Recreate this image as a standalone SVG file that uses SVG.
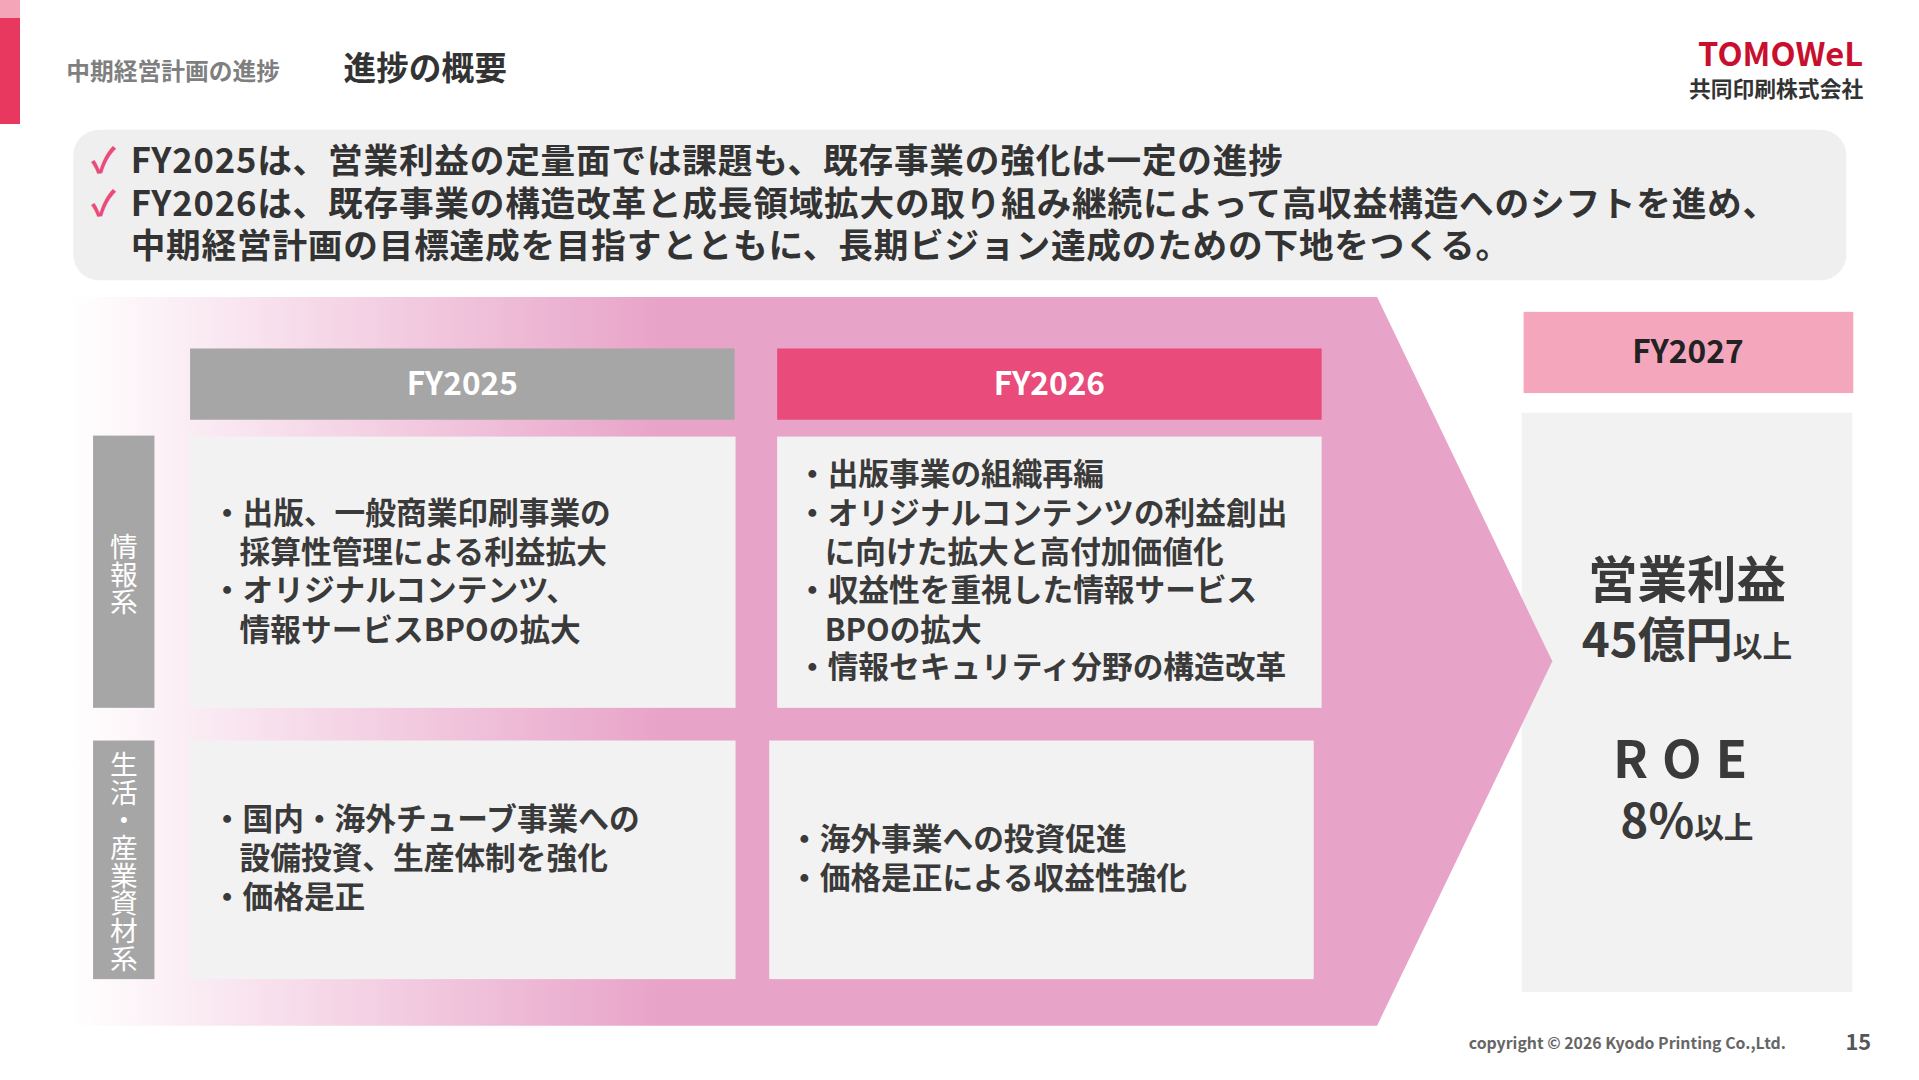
<svg xmlns="http://www.w3.org/2000/svg" width="1919" height="1080" viewBox="0 0 1919 1080">
<defs>
<linearGradient id="ag" x1="72" y1="0" x2="1568" y2="0" gradientUnits="userSpaceOnUse">
<stop offset="0" stop-color="#ffffff"/><stop offset="0.4" stop-color="#e8a3c8"/><stop offset="1" stop-color="#e8a3c8"/>
</linearGradient>
<style>
text{font-family:"Noto Sans CJK JP","Noto Sans",sans-serif;font-weight:bold}
.c{fill:#3a3a3a;font-size:31px}
.cell{fill:#f2f2f2}
.side{fill:#a6a6a6}
.vt{fill:#fff;font-size:28px;font-weight:normal}
</style>
</defs>
<rect x="0" y="0" width="20" height="124" fill="#e8385f"/>
<rect x="0" y="0" width="20" height="18" fill="#f4a6b8"/>
<g transform="scale(0.99)">
<text x="67" y="81" font-size="24" fill="#7f7f7f">中期経営計画の進捗</text>
<text x="347" y="81" font-size="33" fill="#333">進捗の概要</text>
<g id="logo"><text x="1882" y="67" text-anchor="end" font-size="33" fill="#c8102e" font-family="Liberation Sans,sans-serif">TOMOWeL</text>
<text x="1882" y="98" text-anchor="end" font-size="22" font-weight="normal" fill="#333">共同印刷株式会社</text></g>
<g id="summary"><rect x="74" y="131" width="1791" height="152" rx="26" fill="#efefef"/>
<text font-size="35" fill="#333" letter-spacing="0.8"><tspan x="92" y="175" fill="#e94b7b">✓</tspan><tspan x="132" y="175">FY2025は、営業利益の定量面では課題も、既存事業の強化は一定の進捗</tspan>
<tspan x="92" y="218" fill="#e94b7b">✓</tspan><tspan x="132" y="218">FY2026は、既存事業の構造改革と成長領域拡大の取り組み継続によって高収益構造へのシフトを進め、</tspan>
<tspan x="132" y="261">中期経営計画の目標達成を目指すとともに、長期ビジョン達成のための下地をつくる。</tspan></text></g>
<g id="fy2027"><rect x="1539" y="315" width="333" height="82" fill="#f4a6bd"/><text x="1705" y="367" text-anchor="middle" font-size="32" fill="#222" font-family="Roboto,sans-serif">FY2027</text>
<rect class="cell" x="1537" y="417" width="334" height="585"/>
<text x="1704" y="604" text-anchor="middle" font-size="50" fill="#3a3a3a">営業利益</text>
<text x="1704" y="664" text-anchor="middle" font-size="48" fill="#3a3a3a">45億円<tspan font-size="30">以上</tspan></text>
<text x="1704" y="786" text-anchor="middle" font-size="52" fill="#3a3a3a" letter-spacing="14">ROE</text>
<text x="1704" y="846" text-anchor="middle" font-size="48" fill="#3a3a3a">8%<tspan font-size="30">以上</tspan></text></g>
<polygon id="arrow" points="72,300 1391,300 1568,668 1391,1036 72,1036" fill="url(#ag)"/>
<g id="fy2025"><rect x="192" y="352" width="550" height="72" fill="#a6a6a6"/><text x="467" y="399" text-anchor="middle" font-size="32" fill="#fff" font-family="Roboto,sans-serif">FY2025</text></g>
<g id="fy2026"><rect x="785" y="352" width="550" height="72" fill="#e94b7b"/><text x="1060" y="399" text-anchor="middle" font-size="32" fill="#fff" font-family="Roboto,sans-serif">FY2026</text></g>
<g id="side1"><rect class="side" x="94" y="440" width="62" height="275"/><text class="vt" x="125" y="580" font-size="31" text-anchor="middle" writing-mode="tb">情報系</text></g>
<g id="side2"><rect class="side" x="94" y="748" width="62" height="241"/><text class="vt" x="125" y="870" text-anchor="middle" writing-mode="tb">生活・産業資材系</text></g>
<g id="c11"><rect class="cell" x="192" y="441" width="551" height="274"/>
<text class="c"><tspan x="214" y="529">・出版、一般商業印刷事業の</tspan><tspan x="242" y="569">採算性管理による利益拡大</tspan><tspan x="214" y="607">・オリジナルコンテンツ、</tspan><tspan x="242" y="647">情報サービスBPOの拡大</tspan></text></g>
<g id="c12"><rect class="cell" x="785" y="441" width="550" height="274"/>
<text class="c"><tspan x="805" y="490">・出版事業の組織再編</tspan><tspan x="805" y="529">・オリジナルコンテンツの利益創出</tspan><tspan x="833" y="569">に向けた拡大と高付加価値化</tspan><tspan x="805" y="607">・収益性を重視した情報サービス</tspan><tspan x="833" y="647">BPOの拡大</tspan><tspan x="805" y="685">・情報セキュリティ分野の構造改革</tspan></text></g>
<g id="c21"><rect class="cell" x="192" y="748" width="551" height="241"/>
<text class="c"><tspan x="214" y="838">・国内・海外チューブ事業への</tspan><tspan x="242" y="878">設備投資、生産体制を強化</tspan><tspan x="214" y="917">・価格是正</tspan></text></g>
<g id="c22"><rect class="cell" x="777" y="748" width="550" height="241"/>
<text class="c"><tspan x="797" y="859">・海外事業への投資促進</tspan><tspan x="797" y="898">・価格是正による収益性強化</tspan></text></g>
<text x="1804" y="1060" text-anchor="end" font-size="16" font-weight="normal" fill="#666" font-family="Open Sans,sans-serif">copyright © 2026 Kyodo Printing Co.,Ltd.</text>
<text x="1890" y="1061" text-anchor="end" font-size="22" fill="#555" font-family="Roboto,sans-serif">15</text>
</g>
</svg>
